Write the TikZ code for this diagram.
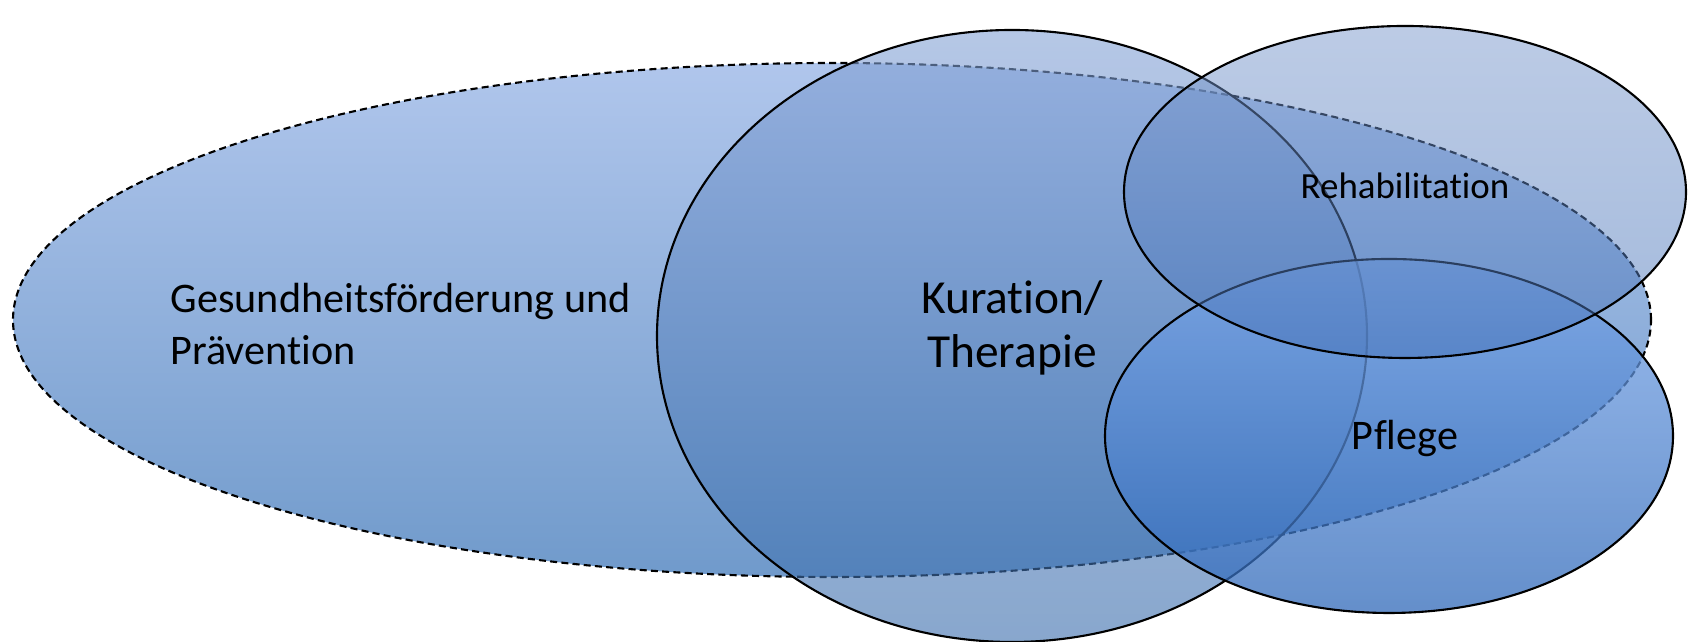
\documentclass[tikz,border=0pt]{standalone}
\usepackage{fontspec}
\setmainfont{Carlito}[Ligatures=NoCommon]
\usepackage{tikz}
\usetikzlibrary{positioning}

\definecolor{praevtop}{RGB}{176,198,236}
\definecolor{praevbot}{RGB}{112,154,203}
\definecolor{kurtop}{RGB}{132,162,213}
\definecolor{kurbot}{RGB}{57,108,172}
\definecolor{rehatop}{RGB}{122,152,204}
\definecolor{rehabot}{RGB}{70,115,185}
\definecolor{pfletop}{RGB}{120,165,232}
\definecolor{pflebot}{RGB}{48,105,185}

\begin{document}
\begin{tikzpicture}[
  area/.style={draw=black, line width=0.6pt},
  outer/.style={area, dash pattern=on 2pt off 1.2pt, top color=praevtop, bottom color=praevbot},
  kurarea/.style={area, top color=kurtop, bottom color=kurbot, fill opacity=0.6},
  rehaarea/.style={area, top color=rehatop, bottom color=rehabot, fill opacity=0.5},
  pflearea/.style={area, top color=pfletop, bottom color=pflebot, fill opacity=0.75},
  label/.style={text=black, inner sep=0pt}
]
\useasboundingbox (0,0) rectangle (16.94,6.42);

% the four areas
\shade[outer] (8.32,3.22) ellipse (8.19 and 2.57);
\shade[kurarea] (10.12,3.06) ellipse (3.55 and 3.06);
\shade[pflearea] (13.89,2.06) ellipse (2.84 and 1.77);
\shade[rehaarea] (14.05,4.50) ellipse (2.81 and 1.66);

% labels
\node[label, anchor=west, align=left, font=\fontsize{12}{14.8}\selectfont] (praev) at (1.70,3.18)
  {Gesundheitsförderung und\\Prävention};
\node[label, align=center, font=\fontsize{13.5}{15.5}\selectfont] (kur) at (10.12,3.14)
  {Kuration/\\Therapie};
\node[label, font=\fontsize{10.5}{12}\selectfont] (reha) at (14.05,4.56) {Rehabilitation};
\node[label, font=\fontsize{12}{14}\selectfont] (pflege) at (14.05,2.04) {Pflege};
\end{tikzpicture}
\end{document}
